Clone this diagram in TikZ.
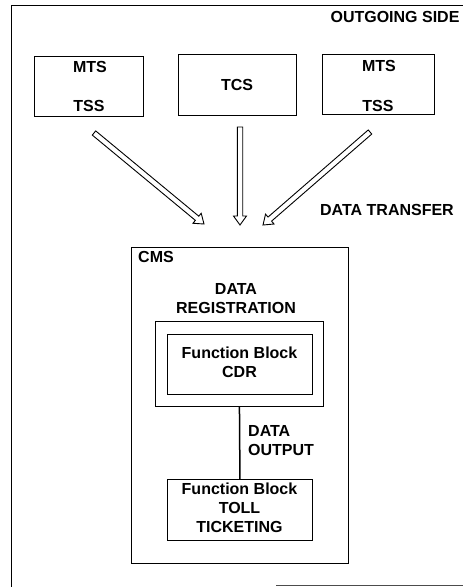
\documentclass[tikz,border=0pt]{standalone}
\usepackage{fontspec}
\setmainfont{Liberation Sans}
\usetikzlibrary{calc}
\begin{document}
\begin{tikzpicture}[x=1pt,y=-1pt,
  box/.style={draw, line width=0.9pt, inner sep=0pt, anchor=north west},
  lbl/.style={font=\fontsize{16}{19}\selectfont\bfseries, align=center, inner sep=0pt},
  hollow/.style={draw, line width=0.9pt, line join=miter}]
\newcommand{\hollowarrow}[2]{%
  \draw[hollow]
    ($(#1)!2.7pt!90:(#2)$) --
    ($($(#2)!9pt!(#1)$)!2.7pt!-90:(#1)$) --
    ($($(#2)!9pt!(#1)$)!6.5pt!-90:(#1)$) --
    (#2) --
    ($($(#2)!9pt!(#1)$)!6.5pt!90:(#1)$) --
    ($($(#2)!9pt!(#1)$)!2.7pt!90:(#1)$) --
    ($(#1)!2.7pt!-90:(#2)$) -- cycle;}
\useasboundingbox (0,0) rectangle (463,587);
% outer frame
\draw[line width=0.9pt] (463,5) -- (11.5,5) -- (11.5,587);
\draw[line width=0.8pt, black!70] (276,585.5) -- (463,585.5);
% top boxes
\node[box, minimum width=109pt, minimum height=60pt] (b1) at (34,56) {};
\node[box, minimum width=118pt, minimum height=61pt] (b2) at (178,54) {};
\node[box, minimum width=112pt, minimum height=60pt] (b3) at (322,54) {};
\node[lbl] (m1) at (90,67) {MTS};
\node[lbl] (t1) at (89,106) {TSS};
\node[lbl] (tcs) at (237,85) {TCS};
\node[lbl] (m3) at (379,66) {MTS};
\node[lbl] (t3) at (378,106) {TSS};
\node[lbl] (out) at (395,17) {OUTGOING SIDE};
\node[lbl] (dt) at (387,210) {DATA TRANSFER};
% arrows
\coordinate (a1s) at (94,133);  \coordinate (a1e) at (204,224);
\coordinate (a2s) at (240,127); \coordinate (a2e) at (240,225);
\coordinate (a3s) at (370,132); \coordinate (a3e) at (263,225);
\hollowarrow{a1s}{a1e}
\hollowarrow{a2s}{a2e}
\hollowarrow{a3s}{a3e}
% CMS
\node[box, minimum width=217pt, minimum height=316pt] (cms) at (131,247) {};
\node[lbl, anchor=west] (cmsl) at (138,257) {CMS};
\node[lbl] (dreg) at (236,298.5) {DATA\\REGISTRATION};
\node[box, minimum width=168pt, minimum height=85pt] (cdro) at (155,321) {};
\node[box, minimum width=145pt, minimum height=60pt] (cdri) at (167,334) {};
\node[lbl] (cdrt) at (239.5,362.5) {Function Block\\CDR};
\node[box, minimum width=145pt, minimum height=61pt] (toll) at (167,479) {};
\node[lbl] (tollt) at (239.5,508) {Function Block\\TOLL\\TICKETING};
\node[lbl, anchor=west, align=left] (dout) at (248,441) {DATA\\OUTPUT};
\draw[line width=1.5pt] (cdro.south) -- (toll.north);
\end{tikzpicture}
\end{document}
